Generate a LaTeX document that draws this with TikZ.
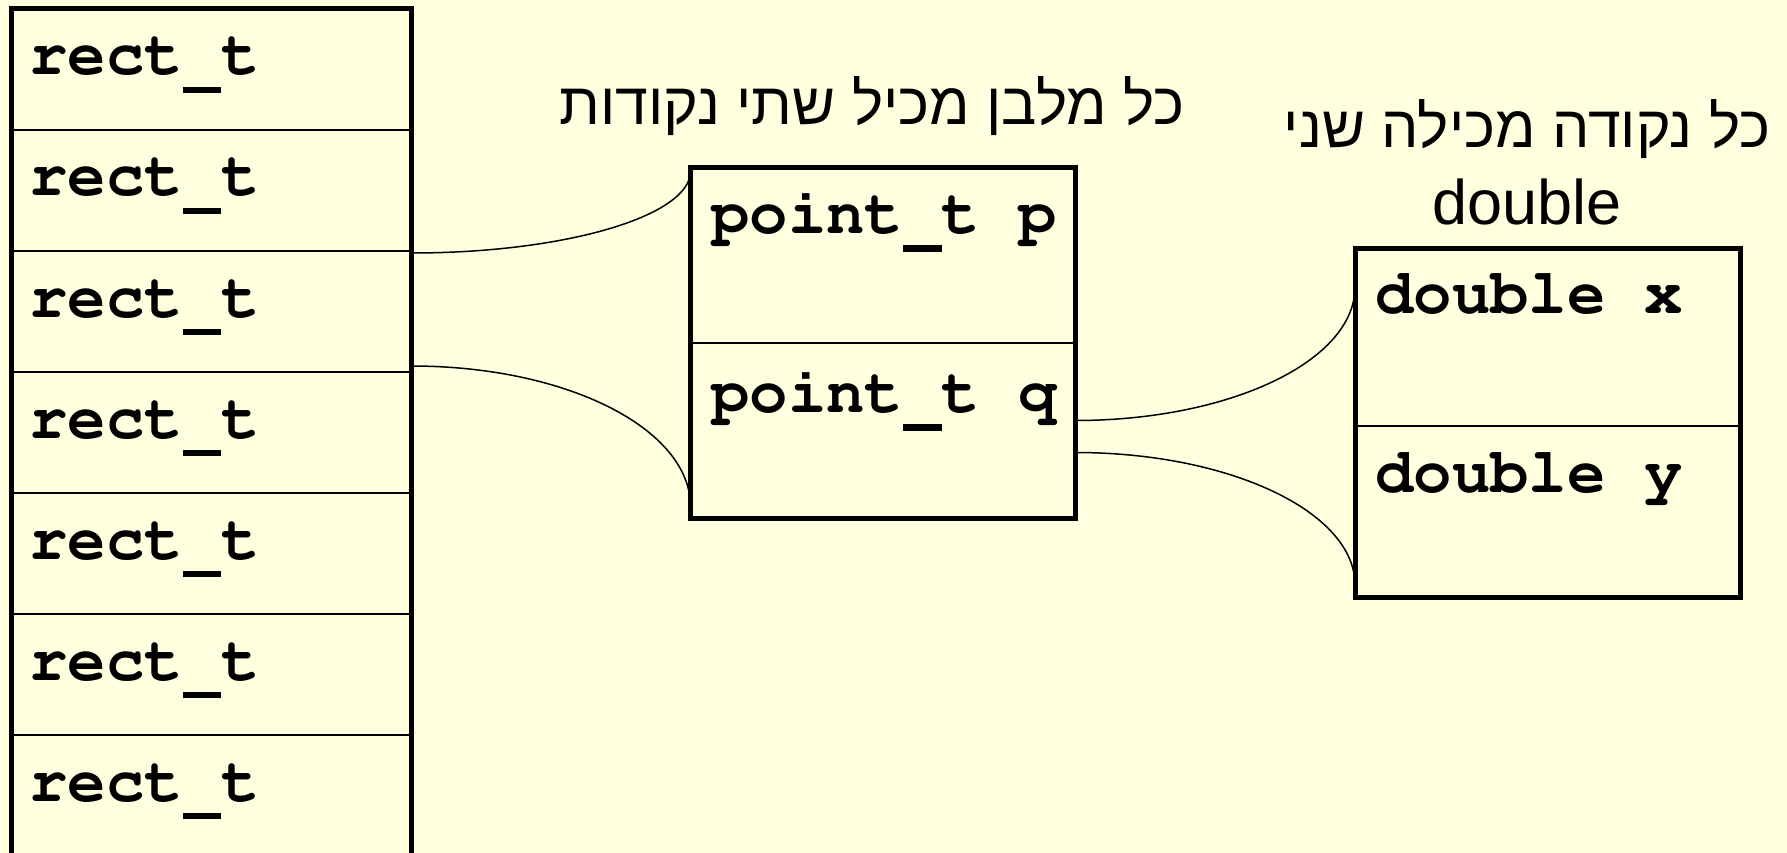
\documentclass[tikz,border=0pt]{standalone}
\usepackage{fontspec}
\setmainfont{Liberation Sans}
\newfontfamily\hebfont[Script=Hebrew]{Liberation Sans}
\newcommand\couriercode{\fontencoding{T1}\fontfamily{pcr}\fontseries{b}\fontshape{n}\fontsize{64}{76}\selectfont}
\newcommand\usc{\makebox[0.6em][c]{\rule[-0.28em]{0.6em}{0.1em}}}
\TeXXeTstate=1
\usetikzlibrary{calc}
\definecolor{bg}{HTML}{FFFFE0}
\begin{document}
\begin{tikzpicture}[x=1pt,y=-1pt,
  cellbox/.style={draw, line width=2.5pt, inner sep=0pt, outer sep=0pt, anchor=north west},
  colcell/.style={cellbox, minimum width=400pt, minimum height=121pt},
  ptcell/.style={cellbox, minimum width=384.4pt, minimum height=175.5pt},
  outerbox/.style={line width=5pt},
  code/.style={inner sep=0pt, anchor=base west, font=\couriercode},
  title/.style={inner sep=0pt, anchor=base, font=\fontsize{63}{76}\selectfont},
  hebtitle/.style={inner sep=0pt, anchor=base, font=\hebfont\fontsize{59}{76}\selectfont},
  link/.style={line width=1.5pt}]
\useasboundingbox (0,0) rectangle (1787,853);
\fill[bg] (0,0) rectangle (1787,853);
% left column
\foreach \i in {1,...,7}{
  \node[colcell] (r\i) at (11.4,{9+121*(\i-1)}) {};
  \node[code] (rt\i) at (29,{75+121*(\i-1)}) {rect\usc t};
}
\draw[outerbox] (r1.north west) rectangle (r7.south east);
% middle box
\node[ptcell] (p1) at (690.6,167.5) {};
\node[ptcell] (p2) at (690.6,343) {};
\draw[outerbox] (p1.north west) rectangle (p2.south east);
\node[code] (pt1) at (711,233.6) {point\usc t p};
\node[code] (pt2) at (711,412.6) {point\usc t q};
% right box
\node[cellbox, minimum width=385pt, minimum height=178pt] (x1) at (1355,248) {};
\node[cellbox, minimum width=385pt, minimum height=171pt] (x2) at (1355,426) {};
\draw[outerbox] (x1.north west) rectangle (x2.south east);
\node[code] (dx) at (1375,313) {double x};
\node[code] (dy) at (1375,492) {double y};
% titles
\node[hebtitle] (t1) at (872,125) {\beginR כל מלבן מכיל שתי נקודות\endR};
\node[hebtitle] (t2) at (1527,148) {\beginR כל נקודה מכילה שני\endR};
\node[title] (t2b) at (1527,224) {double};
% connectors
\draw[link] ($(r3.north east)+(0,2)$) .. controls +(154,0) and +(0,45) .. ($(p1.north west)+(0,3.5)$);
\draw[link] ($(r4.north east)+(0,-6)$) .. controls +(154,0) and +(0,-79) .. ($(p2.south west)+(0,-11.5)$);
\draw[link] ($(p2.north east)+(0,77.5)$) .. controls +(155,0) and +(0,74) .. ($(x1.north west)+(0,39)$);
\draw[link] ($(p2.north east)+(0,109.5)$) .. controls +(155,0) and +(0,-73) .. ($(x2.south west)+(0,-12)$);
\end{tikzpicture}
\end{document}
